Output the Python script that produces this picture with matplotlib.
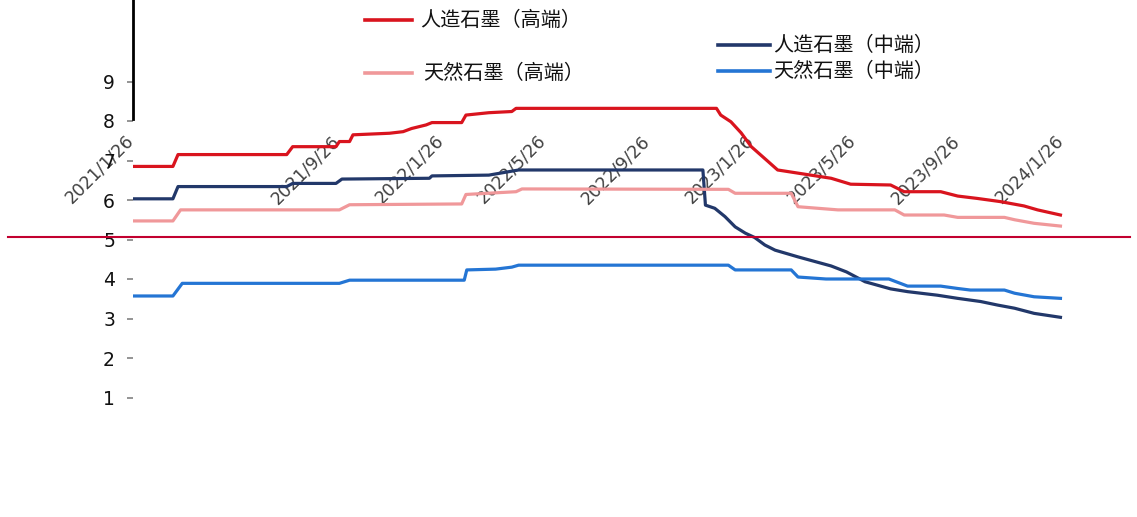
import matplotlib
matplotlib.use("Agg")
import matplotlib.pyplot as plt
import pandas as pd
from matplotlib.lines import Line2D

plt.rcParams['font.family'] = ['DejaVu Sans']

# 石墨负极价格（万元/吨）
art_high_dates = ['2021-01-26', '2021-03-14', '2021-03-20', '2021-07-26', '2021-08-02',
                  '2021-09-22', '2021-09-26', '2021-10-08', '2021-10-12', '2021-11-24',
                  '2021-12-10', '2021-12-20', '2022-01-06', '2022-01-13', '2022-02-17',
                  '2022-02-22', '2022-03-21', '2022-04-17', '2022-04-22', '2022-12-14',
                  '2022-12-19', '2022-12-31', '2023-01-12', '2023-01-24', '2023-02-13',
                  '2023-02-24', '2023-03-20', '2023-04-28', '2023-05-21', '2023-07-07',
                  '2023-07-23', '2023-09-04', '2023-09-24', '2023-10-17', '2023-11-13',
                  '2023-12-11', '2023-12-27', '2024-01-23']
art_high = [6.85, 6.85, 7.15, 7.15, 7.35,
            7.35, 7.48, 7.48, 7.65, 7.69,
            7.73, 7.81, 7.90, 7.96, 7.96,
            8.15, 8.21, 8.24, 8.32, 8.32,
            8.15, 7.98, 7.70, 7.35, 6.97,
            6.76, 6.68, 6.55, 6.40, 6.38,
            6.21, 6.21, 6.10, 6.04, 5.96,
            5.85, 5.75, 5.62]

art_mid_dates = ['2021-01-26', '2021-03-14', '2021-03-20', '2021-07-26', '2021-08-02',
                 '2021-09-22', '2021-09-29', '2022-01-10', '2022-01-13', '2022-03-21',
                 '2022-04-17', '2022-04-25', '2022-11-28', '2022-12-01', '2022-12-12',
                 '2022-12-24', '2023-01-05', '2023-01-17', '2023-01-28', '2023-02-09',
                 '2023-02-21', '2023-03-20', '2023-04-28', '2023-05-16', '2023-06-07',
                 '2023-07-07', '2023-07-27', '2023-08-31', '2023-09-24', '2023-10-21',
                 '2023-11-10', '2023-11-30', '2023-12-23', '2024-01-23']
art_mid = [6.03, 6.03, 6.34, 6.34, 6.42,
           6.42, 6.53, 6.55, 6.61, 6.63,
           6.73, 6.76, 6.76, 5.87, 5.79,
           5.58, 5.32, 5.16, 5.05, 4.86,
           4.73, 4.56, 4.33, 4.18, 3.93,
           3.75, 3.68, 3.59, 3.51, 3.43,
           3.34, 3.26, 3.13, 3.03]

nat_high_dates = ['2021-01-26', '2021-03-14', '2021-03-23', '2021-09-26', '2021-10-08',
                  '2022-02-17', '2022-02-22', '2022-04-22', '2022-04-29', '2022-12-28',
                  '2023-01-05', '2023-03-12', '2023-03-20', '2023-05-06', '2023-07-12',
                  '2023-07-23', '2023-09-08', '2023-09-24', '2023-11-18', '2023-11-30',
                  '2023-12-23', '2024-01-23']
nat_high = [5.47, 5.47, 5.75, 5.75, 5.88,
            5.90, 6.14, 6.21, 6.28, 6.27,
            6.17, 6.17, 5.83, 5.75, 5.75,
            5.62, 5.62, 5.56, 5.56, 5.50,
            5.41, 5.34]

nat_mid_dates = ['2021-01-26', '2021-03-14', '2021-03-25', '2021-09-26', '2021-10-08',
                 '2022-02-20', '2022-02-23', '2022-03-29', '2022-04-17', '2022-04-25',
                 '2022-12-28', '2023-01-05', '2023-03-12', '2023-03-20', '2023-04-22',
                 '2023-07-05', '2023-07-27', '2023-09-04', '2023-09-24', '2023-10-09',
                 '2023-11-18', '2023-11-30', '2023-12-23', '2024-01-23']
nat_mid = [3.57, 3.57, 3.89, 3.89, 3.97,
           3.97, 4.23, 4.25, 4.30, 4.35,
           4.35, 4.23, 4.23, 4.05, 4.00,
           4.00, 3.82, 3.82, 3.76, 3.72,
           3.72, 3.64, 3.55, 3.51]

tick_dates = ['2021-01-26', '2021-09-26', '2022-01-26', '2022-05-26', '2022-09-26',
              '2023-01-26', '2023-05-26', '2023-09-26', '2024-01-26']
tick_labels = ['2021/1/26', '2021/9/26', '2022/1/26', '2022/5/26', '2022/9/26',
               '2023/1/26', '2023/5/26', '2023/9/26', '2024/1/26']

series = [
    ('人造石墨（高端）', art_high_dates, art_high, '#D9141E'),
    ('人造石墨（中端）', art_mid_dates, art_mid, '#22386A'),
    ('天然石墨（高端）', nat_high_dates, nat_high, '#F0989A'),
    ('天然石墨（中端）', nat_mid_dates, nat_mid, '#2475D4'),
]

W, H = 1137, 517


def fx(x):
    return x / W


def fy(y):
    return 1 - y / H


fig = plt.figure(figsize=(W / 100, H / 100), dpi=100)
ax = fig.add_axes([fx(133), fy(437), fx(1063) - fx(133), fy(0) - fy(437)])

for name, d, v, c in series:
    ax.plot(pd.to_datetime(d), v, color=c, lw=2.3, solid_joinstyle='round', zorder=3)

ax.set_xlim(pd.Timestamp('2021-01-26'), pd.Timestamp('2024-01-23'))
ax.set_ylim(0, 437 / 39.5)
ax.set_yticks(range(1, 10))
ax.tick_params(axis='y', length=4, width=1.1, color='#777777', pad=9,
               labelsize=13.5, labelcolor='#111111')

# date labels sit in the middle of the plot
ax.spines['bottom'].set_position(('data', 7.8))
ax.spines['bottom'].set_color('none')
ax.set_xticks(pd.to_datetime(tick_dates))
ax.set_xticklabels(tick_labels, rotation=45, ha='right', va='top',
                   color='#404040', fontsize=12.5)
ax.tick_params(axis='x', length=0, pad=2)
for lbl in ax.get_xticklabels():
    lbl.set_x(lbl.get_position()[0])
    lbl.set_transform(lbl.get_transform() +
                      matplotlib.transforms.ScaledTranslation(4 / 100, 0, fig.dpi_scale_trans))

for s in ('top', 'right'):
    ax.spines[s].set_visible(False)
ax.spines['left'].set_bounds(8.05, 437 / 39.5)
ax.spines['left'].set_linewidth(2)
ax.spines['left'].set_color('black')

# horizontal rule across the whole figure
fig.add_artist(Line2D([fx(8), fx(1130)], [fy(237), fy(237)], color='#C2002F', lw=1.5))

# legend entries
cjk = ['Noto Sans CJK SC', 'DejaVu Sans']
legend_pos = {
    '人造石墨（高端）': (365, 412, 20, 420),
    '天然石墨（高端）': (365, 412, 73, 423),
    '人造石墨（中端）': (718, 770, 45, 773),
    '天然石墨（中端）': (718, 770, 71, 773),
}
for name, d, v, c in series:
    x0, x1, y, tx = legend_pos[name]
    fig.add_artist(Line2D([fx(x0), fx(x1)], [fy(y), fy(y)], color=c, lw=2.6))
    fig.text(fx(tx), fy(y), name, family=cjk, fontsize=14.5, va='center', ha='left',
             color='#111111')

fig.savefig('out.png', dpi=100)
